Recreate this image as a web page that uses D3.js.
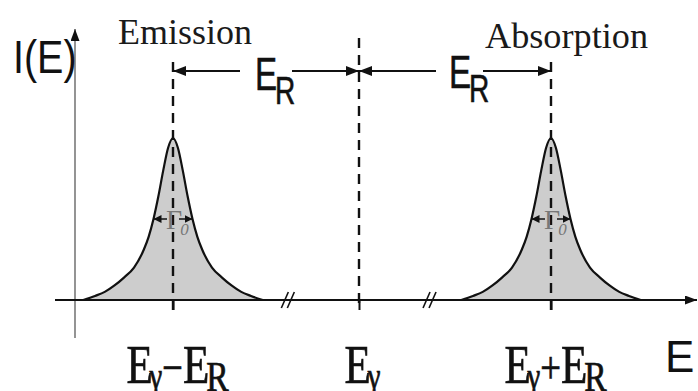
<!DOCTYPE html>
<html>
<head>
<meta charset="utf-8">
<script src="https://cdn.jsdelivr.net/npm/d3@7/dist/d3.min.js"></script>
<style>
  html, body { margin: 0; padding: 0; background: #fff; }
  svg { display: block; }
</style>
</head>
<body>
<svg id="chart" width="698" height="391"></svg>
<script>
// Energy positions (in units of the recoil energy E_R, relative to E_γ)
const tickEnergies = [-1, 0, 1];
const tickLabels = [
  [{t: "E", k: "big"}, {t: "γ", k: "subG"}, {t: "−", k: "op"}, {t: "E", k: "big"}, {t: "R", k: "subR"}],
  [{t: "E", k: "big"}, {t: "γ", k: "subG"}],
  [{t: "E", k: "big"}, {t: "γ", k: "subG"}, {t: "+", k: "op"}, {t: "E", k: "big"}, {t: "R", k: "subR"}]
];
// The two lines: emission shifted down, absorption shifted up by E_R
const lineCenters = [-1, 1];
const lineNames = ["Emission", "Absorption"];
// Line profile: offset from the centre (in half-widths Γ0/2) and relative intensity
const profileOffsets = [0, 0.25, 0.5, 0.75, 1, 1.25, 1.5, 2, 2.5, 3, 3.5, 4, 4.6];
const profileValues  = [1, 0.94, 0.8, 0.64, 0.5, 0.39, 0.31, 0.2, 0.14, 0.09, 0.05, 0.025, 0];
// Axis breaks (energy positions)
const breakEnergies = [-0.38, 0.37];

const svg = d3.select("#chart");
const x = d3.scaleLinear().domain([-1, 0, 1]).range([173, 359, 551]);
const w = d3.scaleLinear().domain([0, 1]).range([0, 19.5]);
const y = d3.scaleLinear().domain([0, 1]).range([300, 138]);

const defs = svg.append("defs");
function marker(id, len, h) {
  defs.append("marker")
    .attr("id", id).attr("markerUnits", "userSpaceOnUse")
    .attr("viewBox", `0 0 ${len} ${h}`)
    .attr("markerWidth", len).attr("markerHeight", h)
    .attr("refX", len).attr("refY", h / 2)
    .attr("orient", "auto-start-reverse")
    .append("path").attr("d", `M0,0 L${len},${h / 2} L0,${h} Z`).attr("fill", "#111");
}
marker("head", 13, 10);
marker("headSmall", 8, 8);
marker("axisHead", 12, 9);

// Line shapes (filled Lorentzian-like profiles)
const area = d3.area().curve(d3.curveMonotoneX)
  .x(d => d.px).y0(y(0)).y1(d => y(d.v));
const line = d3.line().curve(d3.curveMonotoneX).x(d => d.px).y(d => y(d.v));

lineCenters.forEach(c => {
  const pts = [];
  for (let i = profileOffsets.length - 1; i > 0; i--)
    pts.push({px: x(c) - w(profileOffsets[i]), v: profileValues[i]});
  profileOffsets.forEach((o, i) => pts.push({px: x(c) + w(o), v: profileValues[i]}));
  svg.append("path").attr("d", area(pts)).attr("fill", "#cdcdcd");
  svg.append("path").attr("d", line(pts)).attr("fill", "none")
    .attr("stroke", "#111").attr("stroke-width", 2.2);
});

// Vertical (y) axis
svg.append("line").attr("x1", 75).attr("x2", 75).attr("y1", 338).attr("y2", 29)
  .attr("stroke", "#666").attr("stroke-width", 1.4).attr("marker-end", "url(#axisHead)");
svg.append("text").text("I(E)")
  .attr("transform", "translate(13,73) scale(0.84,1)")
  .attr("font-family", "Liberation Sans, Arial, sans-serif").attr("font-size", 47).attr("fill", "#111");

// Horizontal (energy) axis
const axis = d3.axisBottom(x).tickValues(tickEnergies).tickSize(10).tickFormat("");
const ax = svg.append("g").attr("transform", `translate(0,${y(0)})`).call(axis);
ax.select(".domain").remove();
ax.selectAll(".tick line").attr("stroke", "#111").attr("stroke-width", 2);
svg.append("line").attr("x1", 55).attr("x2", 697).attr("y1", y(0)).attr("y2", y(0))
  .attr("stroke", "#111").attr("stroke-width", 2.2).attr("marker-end", "url(#axisHead)");

// Axis breaks
breakEnergies.forEach(e => {
  [-3, 3].forEach(d => {
    svg.append("line")
      .attr("x1", x(e) + d - 4).attr("y1", y(0) + 8)
      .attr("x2", x(e) + d + 3).attr("y2", y(0) - 8)
      .attr("stroke", "#111").attr("stroke-width", 1.6);
  });
});

// Dashed guide lines at each energy
tickEnergies.forEach(e => {
  svg.append("line").attr("x1", x(e)).attr("x2", x(e))
    .attr("y1", e === 0 ? 38 : 62).attr("y2", 310)
    .attr("stroke", "#111").attr("stroke-width", 2.4).attr("stroke-dasharray", "10,7");
});

// Recoil-energy arrows
const arrowY = 71;
function erLabel(ex, base) {
  const t = svg.append("text").attr("transform", `translate(${ex},${base}) scale(0.72,1)`)
    .attr("font-family", "Liberation Sans, Arial, sans-serif").attr("fill", "#111")
    .attr("stroke", "#111").attr("stroke-width", 0.6);
  t.append("tspan").attr("font-size", 46).text("E");
  t.append("tspan").attr("font-size", 39).attr("dx", -3).attr("dy", 14).text("R");
}
[[-1, 0], [0, 1]].forEach(([a, b], i) => {
  const gapL = i === 0 ? 240 : 436;
  const gapR = i === 0 ? 292 : 483;
  svg.append("line").attr("x1", gapL).attr("x2", x(a)).attr("y1", arrowY).attr("y2", arrowY)
    .attr("stroke", "#111").attr("stroke-width", 1.8).attr("marker-end", "url(#head)");
  svg.append("line").attr("x1", gapR).attr("x2", x(b)).attr("y1", arrowY).attr("y2", arrowY)
    .attr("stroke", "#111").attr("stroke-width", 1.8).attr("marker-end", "url(#head)");
  erLabel(i === 0 ? 255 : 449, i === 0 ? 90 : 88);
});

// Line names
svg.append("text").text(lineNames[0]).attr("x", 118).attr("y", 44)
  .attr("font-family", "Liberation Serif, Times New Roman, serif").attr("font-size", 36)
  .attr("textLength", 134).attr("lengthAdjust", "spacingAndGlyphs").attr("fill", "#1a1a1a");
svg.append("text").text(lineNames[1]).attr("x", 485).attr("y", 48)
  .attr("font-family", "Liberation Serif, Times New Roman, serif").attr("font-size", 36)
  .attr("textLength", 163).attr("lengthAdjust", "spacingAndGlyphs").attr("fill", "#1a1a1a");

// Line-width markers Γ0 at half maximum
lineCenters.forEach(c => {
  const cy = y(0.5);
  svg.append("line").attr("x1", x(c) - 6).attr("x2", x(c) - w(1)).attr("y1", cy).attr("y2", cy)
    .attr("stroke", "#111").attr("stroke-width", 1.5).attr("marker-end", "url(#headSmall)");
  svg.append("line").attr("x1", x(c) + 6).attr("x2", x(c) + w(1)).attr("y1", cy).attr("y2", cy)
    .attr("stroke", "#111").attr("stroke-width", 1.5).attr("marker-end", "url(#headSmall)");
  const g = svg.append("text").attr("x", x(c) - 7).attr("y", cy + 10)
    .attr("font-family", "Liberation Serif, Times New Roman, serif").attr("fill", "#777");
  g.append("tspan").attr("font-size", 28).text("Γ");
  g.append("tspan").attr("font-size", 17).attr("font-style", "italic").attr("dx", -2).attr("dy", 6).text("0");
});

// Tick labels below the axis
const sizes = {big: 54, subG: 36, op: 46, subR: 42};
const shifts = {big: 0, subG: 5, op: 0, subR: 8};
ax.selectAll(".tick").each(function(d, i) {
  const parts = tickLabels[i];
  const t = d3.select(this).append("text")
    .attr("transform", `translate(${i === 1 ? 3 : 4},83) scale(0.8,1)`)
    .attr("text-anchor", "middle").attr("fill", "#111")
    .attr("stroke", "#111").attr("stroke-width", 0.7)
    .attr("font-family", "Liberation Serif, Times New Roman, serif");
  let prev = 0;
  parts.forEach(p => {
    t.append("tspan").attr("font-size", sizes[p.k]).attr("dy", shifts[p.k] - prev)
      .attr("dx", p.k === "subG" || p.k === "subR" ? -4 : 0).text(p.t);
    prev = shifts[p.k];
  });
});

// Energy axis title
svg.append("text").text("E").attr("x", 665).attr("y", 372)
  .attr("font-family", "Liberation Sans, Arial, sans-serif").attr("font-size", 44).attr("fill", "#111");
</script>
</body>
</html>
